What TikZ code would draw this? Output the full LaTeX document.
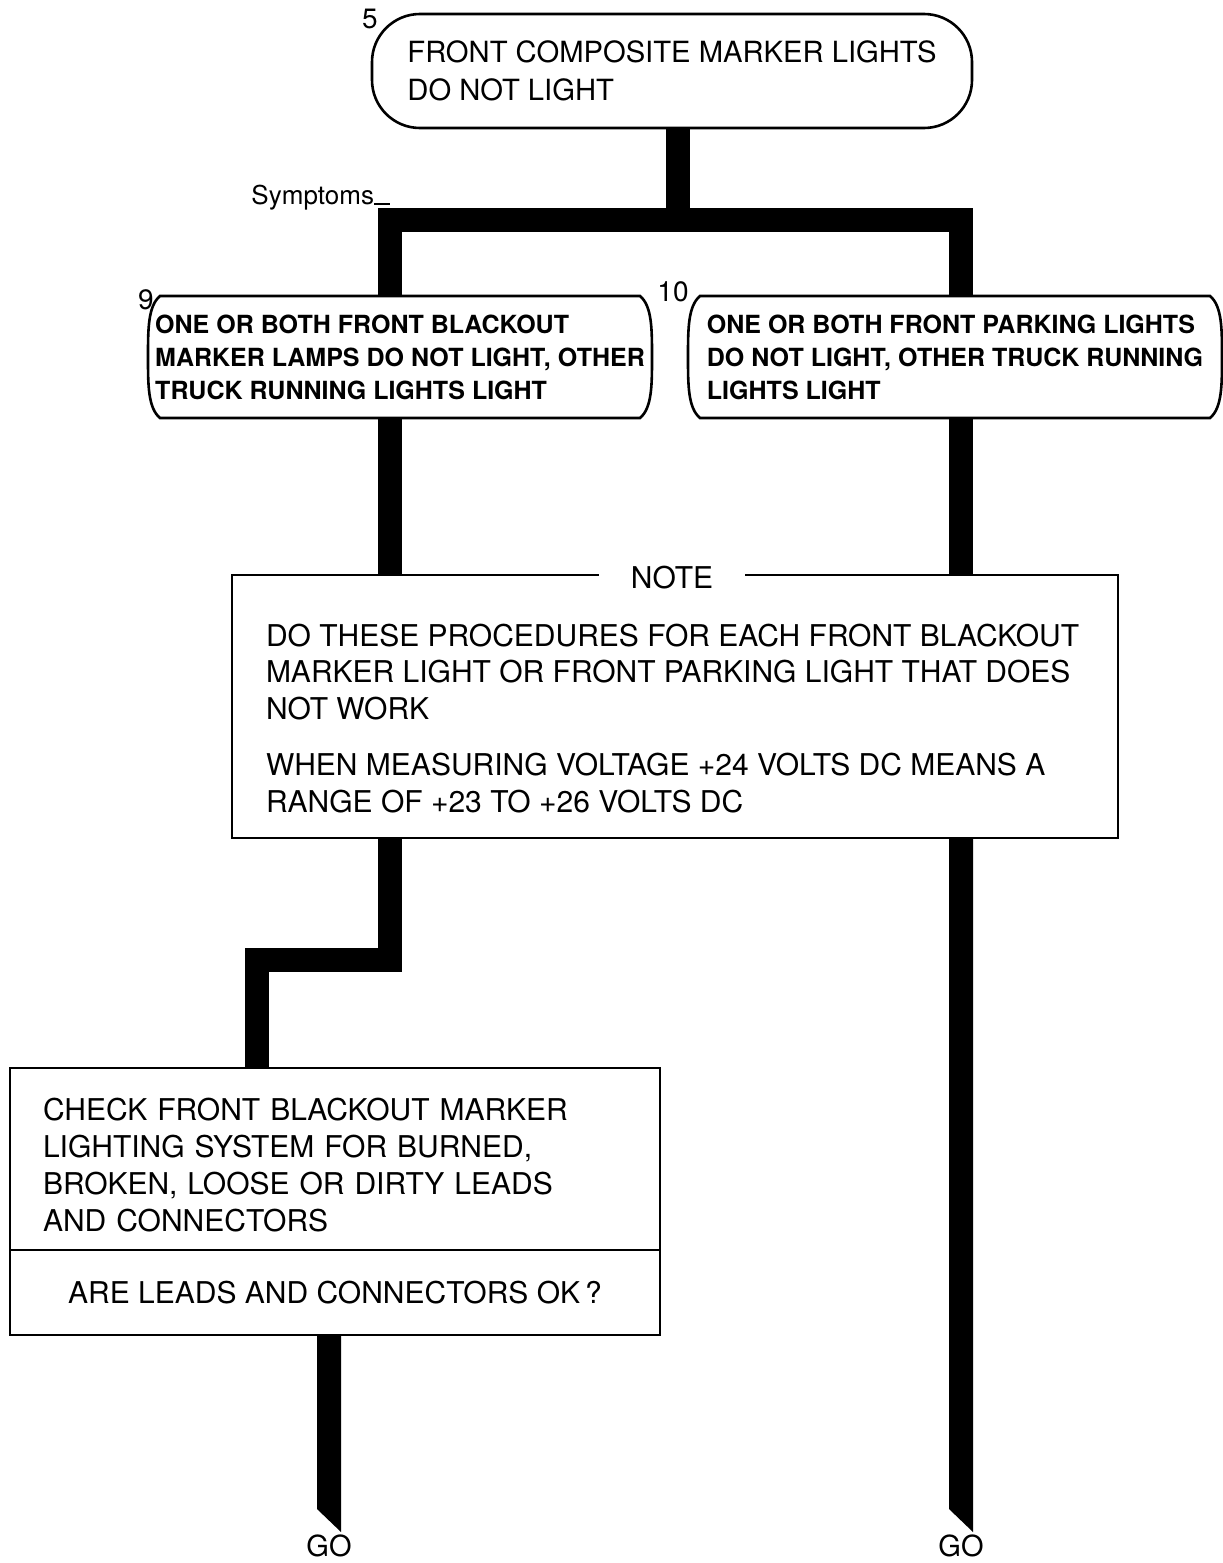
\documentclass[tikz,border=0pt]{standalone}
\usepackage{fontspec}
\setmainfont{TeX Gyre Heros}
\usetikzlibrary{positioning,calc}

\begin{document}
\begin{tikzpicture}[x=0.5pt,y=-0.5pt]
        \tikzstyle{every node} = [align=left, inner sep=0pt, outer sep=0pt]
        \tikzstyle{box} = [draw, line width=1.3pt]
        \tikzstyle{pipe} = [line width=12pt]
        \tikzstyle{num} = [font=\fontsize{14}{14}\selectfont]
        \tikzstyle{symptom} = [minimum height=61pt, font=\bfseries\fontsize{12.5}{16.5}\selectfont]
        \tikzstyle{plain} = [font=\fontsize{15}{18.5}\selectfont]
        \tikzstyle{goto} = [font=\fontsize{14.5}{14.5}\selectfont, anchor=north]
        \useasboundingbox (0,0) rectangle (1222,1563);

        \node[box, rounded corners=24pt, minimum width=300pt, minimum height=57pt, font=\fontsize{14.6}{19}\selectfont] (start) at (672,71) {FRONT COMPOSITE MARKER LIGHTS\\DO NOT LIGHT};
        \node[num] (n5) at (370,19) {5};
        \node[font=\fontsize{13}{13}\selectfont, anchor=base east] (sym) at (374,204) {Symptoms};

        \node[symptom, minimum width=252pt] (blackout) at (400,357) {ONE OR BOTH FRONT BLACKOUT\\MARKER LAMPS DO NOT LIGHT, OTHER\\TRUCK RUNNING LIGHTS LIGHT};
        \node[symptom, minimum width=267pt] (parking) at (955,357) {ONE OR BOTH FRONT PARKING LIGHTS\\DO NOT LIGHT, OTHER TRUCK RUNNING\\LIGHTS LIGHT};
        \node[num] (n9) at (146,300) {9};
        \node[num] (n10) at (673,292) {10};
        \foreach \n in {blackout, parking}
          \draw[box] ([xshift=6pt]\n.north west) -- ([xshift=-6pt]\n.north east)
            .. controls +(6pt,-5pt) and +(0,14pt) .. (\n.east)
            .. controls +(0,-14pt) and +(6pt,5pt) .. ([xshift=-6pt]\n.south east)
            -- ([xshift=6pt]\n.south west)
            .. controls +(-6pt,5pt) and +(0,-14pt) .. (\n.west)
            .. controls +(0,14pt) and +(-6pt,-5pt) .. ([xshift=6pt]\n.north west) -- cycle;

        \node[box, minimum width=443pt, minimum height=131.5pt] (note) at (675,706.5) {};
        \node[fill=white, inner xsep=16pt, inner ysep=2pt, font=\fontsize{15}{15}\selectfont] (notetitle) at (672,578) {NOTE};
        \node[plain, anchor=north west, font=\fontsize{15}{18.25}\selectfont] (notetext) at ([xshift=17pt,yshift=-24.5pt]note.north west) {DO THESE PROCEDURES FOR EACH FRONT BLACKOUT\\MARKER LIGHT OR FRONT PARKING LIGHT THAT DOES\\NOT WORK\\[10pt]WHEN MEASURING VOLTAGE +24 VOLTS DC MEANS A\\RANGE OF +23 TO +26 VOLTS DC};

        \node[box, plain, anchor=north, minimum width=325pt, minimum height=91pt, text width=292pt] (check) at (335,1068) {\rule{0pt}{17pt}CHECK FRONT BLACKOUT MARKER\\LIGHTING SYSTEM FOR BURNED,\\BROKEN, LOOSE OR DIRTY LEADS\\AND CONNECTORS};
        \node[box, plain, below=0pt of check, minimum width=325pt, minimum height=42.5pt] (ok) {ARE LEADS AND CONNECTORS OK\,?};

        \node[goto] (go1) at (329,1535) {GO};
        \node[goto] (go2) at (961,1535) {GO};

        \coordinate (jn) at (678,220);
        \coordinate (lft) at (390,220);
        \coordinate (rgt) at (961,220);
        \coordinate (bend) at (390,960);
        \coordinate (down) at (257,960);

        \draw[line width=0.8pt] (sym.base east) -- (sym.base east -| lft);
        \draw[pipe] (start.south -| jn) -- (jn);
        \draw[pipe] (blackout.north -| lft) -- (lft) -- (rgt) -- (parking.north -| rgt);
        \draw[pipe] (blackout.south -| lft) -- (note.north -| lft);
        \draw[pipe] (parking.south -| rgt) -- (note.north -| rgt);
        \draw[pipe] (note.south -| lft) -- (bend) -- (down) -- (check.north -| down);
        \foreach \src/\dst in {ok/go1, note/go2}
          \fill ($(\src.south -| \dst)+(-12,0)$) -- ($(\src.south -| \dst)+(12,0)$) -- ($(\dst.north)+(12,-3)$) -- ($(\dst.north)+(-12,-26)$) -- cycle;
    \end{tikzpicture}
\end{document}
